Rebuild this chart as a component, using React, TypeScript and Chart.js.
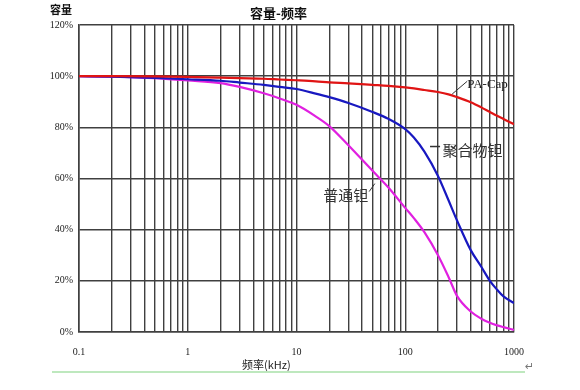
import React, { useEffect, useRef } from "react";
import { Chart, registerables } from "chart.js";

Chart.register(...registerables);

const freq = [0.1, 0.2, 0.5, 1, 2, 3, 5, 7, 10, 15, 20, 30, 50, 70, 100, 120, 150, 200, 250, 300, 400, 500, 600, 700, 800, 1000];
const paCap = [100, 100, 99.9, 99.7, 99.4, 99.2, 99, 98.7, 98.4, 98, 97.6, 97.2, 96.6, 96.2, 95.6, 95.2, 94.6, 93.8, 92.9, 91.8, 89.8, 87.8, 86, 84.5, 83.3, 81.2];
const polymerTa = [100, 99.8, 99.3, 98.8, 98.2, 97.5, 96.6, 95.8, 95, 93.2, 91.8, 89.5, 86, 83.3, 79.3, 76, 70.5, 61, 51.5, 43.5, 32, 25.5, 20, 16.5, 13.9, 11.3];
const normalTa = [100, 99.8, 99.2, 98.3, 97.3, 95.8, 93.3, 91.3, 88.8, 84.3, 80.5, 73, 63, 56.5, 48.5, 44.5, 39, 30, 21.5, 14, 8, 5.2, 3.6, 2.6, 1.9, 0.8];

const xGridValues = [0.1, 0.2, 0.3, 0.4, 0.5, 0.6, 0.7, 0.8, 0.9, 1, 2, 3, 4, 5, 6, 7, 8, 9, 10, 20, 30, 40, 50, 60, 70, 80, 90, 100, 200, 300, 400, 500, 600, 700, 800, 900, 1000];
const xLabelValues = [0.1, 1, 10, 100, 1000];
const yTicks = { min: 0, max: 120, step: 20 };

const seriesNames = ["PA-Cap", "聚合物钽", "普通钽"];
const seriesColors = ["#e01414", "#1818c0", "#e020e0"];

const title = "容量-频率";
const yTitle = "容量";
const xTitle = "频率(kHz)";

const annotationPlugin = {
  id: "annotations",
  afterDraw(chart: any) {
    const ctx = chart.ctx;
    const xs = chart.scales.x;
    const ys = chart.scales.y;
    const px = (v: number) => xs.getPixelForValue(v);
    const py = (v: number) => ys.getPixelForValue(v);
    ctx.save();
    // title
    ctx.fillStyle = "#111";
    ctx.textBaseline = "middle";
    ctx.textAlign = "center";
    ctx.font = 'bold 13px "Noto Sans CJK SC"';
    ctx.fillText(title, (chart.chartArea.left + chart.chartArea.right) / 2 - 18, 13);
    ctx.textAlign = "left";
    ctx.font = 'bold 11px "Noto Sans CJK SC"';
    ctx.fillText(yTitle, 50, 10);
    ctx.font = '11px "Noto Sans CJK SC"';
    ctx.fillStyle = "#222";
    ctx.fillText(xTitle, 242, 365);

    // green rule and return mark
    ctx.strokeStyle = "#a8e0a8";
    ctx.lineWidth = 1.5;
    ctx.beginPath();
    ctx.moveTo(52, 372);
    ctx.lineTo(525, 372);
    ctx.stroke();
    ctx.fillStyle = "#777";
    ctx.font = '11px "DejaVu Sans"';
    ctx.fillText("↵", 525, 367);

    // series labels with leaders
    ctx.strokeStyle = "#333";
    ctx.lineWidth = 1;
    // PA-Cap
    ctx.beginPath();
    ctx.moveTo(px(270), py(93));
    ctx.lineTo(px(371), py(98));
    ctx.stroke();
    ctx.fillStyle = "#222";
    ctx.font = '13px "Liberation Serif"';
    ctx.fillText(seriesNames[0], px(371), py(98) + 3);
    // polymer
    ctx.lineWidth = 1.5;
    ctx.beginPath();
    ctx.moveTo(px(169), py(72.5));
    ctx.lineTo(px(209), py(72.5));
    ctx.stroke();
    ctx.fillStyle = "#333";
    ctx.font = '15px "Noto Sans CJK SC"';
    ctx.fillText(seriesNames[1], px(220), py(71));
    // normal
    ctx.lineWidth = 1;
    ctx.beginPath();
    ctx.moveTo(px(46.6), py(54.9));
    ctx.lineTo(px(52.5), py(58));
    ctx.stroke();
    ctx.textAlign = "right";
    ctx.fillText(seriesNames[2], px(45.6), py(53.5));
    ctx.restore();
  },
};

export default function App() {
  const ref = useRef<HTMLCanvasElement>(null);
  useEffect(() => {
    if (!ref.current) return;
    const mk = (vals: number[]) => freq.map((f, i) => ({ x: f, y: vals[i] }));
    const datasets = [paCap, polymerTa, normalTa].map((vals, i) => ({
      label: seriesNames[i],
      data: mk(vals),
      borderColor: seriesColors[i],
      backgroundColor: seriesColors[i],
      borderWidth: 2.2,
      pointRadius: 0,
      cubicInterpolationMode: "monotone" as const,
      fill: false,
    }));
    const gridColor = "#404040";
    const chart = new Chart(ref.current, {
      type: "line",
      data: { datasets },
      plugins: [annotationPlugin],
      options: {
        animation: false,
        responsive: false,
        layout: { padding: { top: 25, right: 66, left: 0, bottom: 0 } },
        plugins: { legend: { display: false }, tooltip: { enabled: false }, title: { display: false } },
        scales: {
          x: {
            type: "logarithmic",
            min: 0.1,
            max: 1000,
            afterBuildTicks(s: any) {
              s.ticks = xGridValues.map((v) => ({ value: v }));
            },
            afterFit(s: any) {
              s.height = 58;
            },
            ticks: {
              autoSkip: false,
              maxRotation: 0,
              padding: 14,
              color: "#222",
              font: { family: '"Liberation Serif", serif', size: 10 },
              callback(v: any) {
                const n = Number(v);
                return xLabelValues.some((l) => Math.abs(l - n) < 1e-9) ? String(n) : "";
              },
            },
            grid: { color: gridColor, lineWidth: 1.4, drawTicks: false },
            border: { color: gridColor, width: 1.6 },
          },
          y: {
            min: yTicks.min,
            max: yTicks.max,
            afterFit(s: any) {
              s.width = 79;
            },
            ticks: {
              stepSize: yTicks.step,
              padding: 6,
              color: "#222",
              font: { family: '"Liberation Serif", serif', size: 10 },
              callback: (v: any) => v + "%",
            },
            grid: { color: gridColor, lineWidth: 1.6, drawTicks: false },
            border: { color: gridColor, width: 1.6 },
          },
        },
      },
    });
    return () => chart.destroy();
  }, []);
  return (
    <div style={{ position: "fixed", left: 0, top: 0, width: 580, height: 390, background: "#fff" }}>
      <canvas ref={ref} width={580} height={390} style={{ width: 580, height: 390 }} />
    </div>
  );
}
